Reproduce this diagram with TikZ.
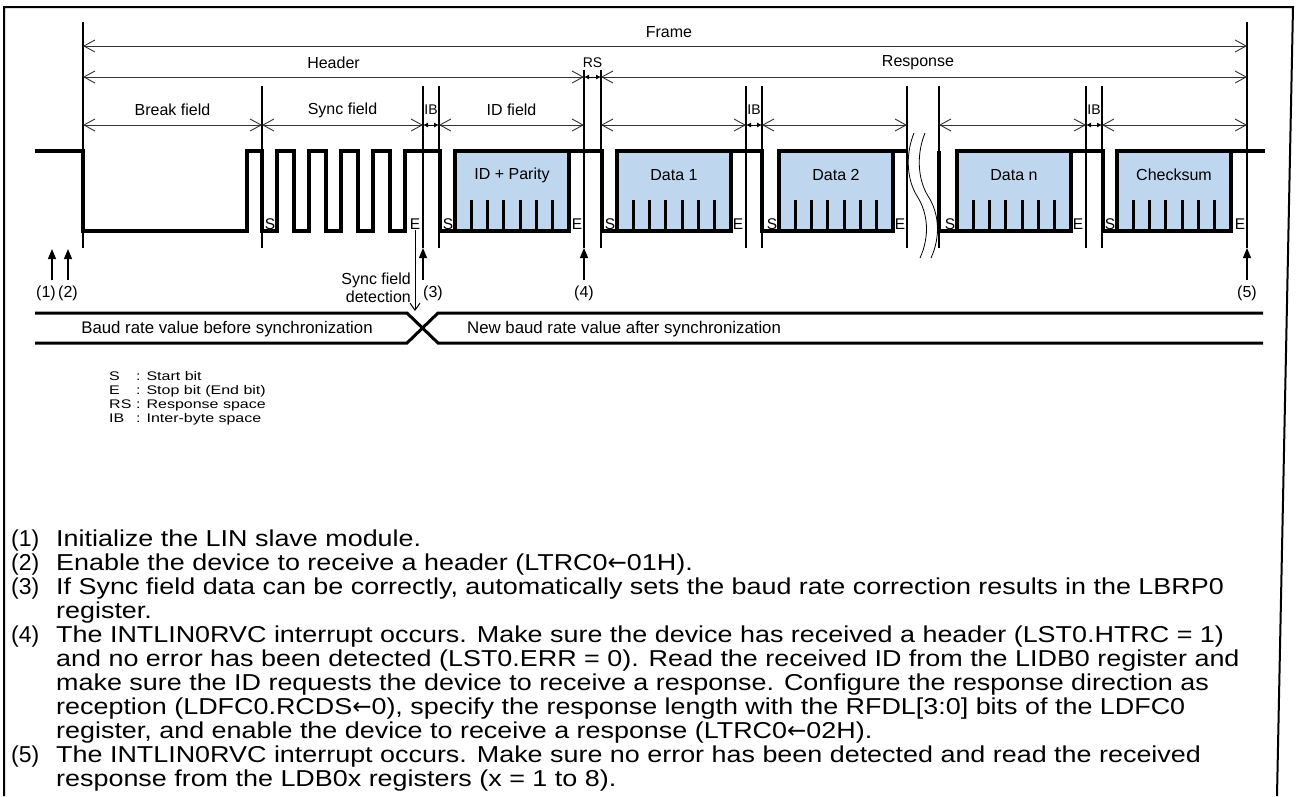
\documentclass[tikz,border=0pt]{standalone}
\usepackage{fontspec}
\setmainfont{Liberation Sans}
\newfontfamily\widefont[FakeStretch=1.17]{Liberation Sans}
\newfontfamily\keyfont[FakeStretch=1.28]{Liberation Sans}
\newfontfamily\arrowfont{DejaVu Sans}
\newcommand{\larr}{{\arrowfont ←}}
\newcommand{\keyitem}[2]{\makebox[27pt][l]{#1}: #2}
\usetikzlibrary{arrows.meta,positioning,calc}
\definecolor{bytefill}{RGB}{190,215,238}

\begin{document}
\begin{tikzpicture}[x=1pt, y=-1pt, inner sep=1pt, font=\fontsize{16}{18.5}\selectfont]
	\tikzstyle{wave}=[line width=3.5pt]
	\tikzstyle{markline}=[line width=2pt]
	\tikzstyle{dimline}=[line width=0.9pt, draw=black!80, {Straight Barb[length=11pt,width=12pt]}-{Straight Barb[length=11pt,width=12pt]}]
	\tikzstyle{gapline}=[line width=0.9pt, {Latex[length=5pt,width=5pt]}-{Latex[length=5pt,width=5pt]}]
	\tikzstyle{event}=[line width=1.2pt, shorten <=4pt, -{Triangle[length=10pt,width=8pt]}]
	\tikzstyle{detarrow}=[line width=1pt, -{Straight Barb[length=7pt,width=10pt]}]
	\tikzstyle{smalltxt}=[font=\fontsize{14}{14}\selectfont, inner sep=0pt]
	\tikzstyle{bitlabel}=[font=\fontsize{15.5}{15.5}\selectfont, inner sep=0pt]
	\tikzstyle{bodytxt}=[font=\widefont\fontsize{23}{24}\selectfont, inner sep=0pt, anchor=base west]
	\useasboundingbox (0,0) rectangle (1296,796);
	% outer frame
	\draw[line width=2pt] (4,796) -- (4,7) -- (1293,7) -- (1277,796);
	% marker lines
	\foreach \nm/\x/\t in {fs/83/22, bf/262/86, sf/423/86, ia/439/86, rs1/584/70, rs2/601/70, d1/746/86, d2/762/86, cut1/907/86, cut2/939/86, dn/1086/86, dn2/1102/86, fe/1247/22}{
		\coordinate (\nm) at (\x,0);
		\coordinate (\nm-b) at (\x,248);
		\draw[markline] (\x,\t) -- (\nm-b);
	}
	% dimension arrows
	\draw[dimline] ($(fs)+(0,46)$) -- ($(fe)+(0,46)$);
	\draw[dimline] ($(fs)+(0,77)$) -- ($(rs1)+(0,77)$);
	\draw[dimline] ($(rs2)+(0,77)$) -- ($(fe)+(0,77)$);
	\draw[gapline] ($(rs1)+(0,77)$) -- ($(rs2)+(0,77)$);
	\foreach \a/\b in {fs/bf, bf/sf, ia/rs1, rs2/d1, d2/cut1, cut2/dn, dn2/fe}
		\draw[dimline] ($(\a)+(0,125)$) -- ($(\b)+(0,125)$);
	\foreach \a/\b in {sf/ia, d1/d2, dn/dn2}
		\draw[gapline] ($(\a)+(0,125)$) -- ($(\b)+(0,125)$);
	\node (tframe) at ($(fs)!0.5!(fe)+(4,32)$) {Frame};
	\node (theader) at ($(fs)!0.5!(rs1)+(0,63)$) {Header};
	\node (tresp) at ($(rs2)!0.5!(fe)+(-6,63)$) {Response};
	\node[smalltxt] (trs) at ($(rs1)!0.5!(rs2)+(0,63)$) {RS};
	\node (tbreak) at ($(fs)!0.5!(bf)+(0,110)$) {Break field};
	\node (tsync) at ($(bf)!0.5!(sf)+(0,110)$) {Sync field};
	\node (tid) at ($(ia)!0.5!(rs1)+(0,110)$) {ID field};
	\foreach \a/\b/\nm in {sf/ia/ib1, d1/d2/ib2, dn/dn2/ib3}
		\node[smalltxt] (\nm) at ($(\a)!0.5!(\b)+(0,110)$) {IB};
	% break and sync field
	\draw[wave] (35,151) -- (83,151) -- (83,231) -- (247,231) -- (247,151)
		foreach \k in {0,...,4}{ -- ({262+32*\k},151) -- ({262+32*\k},231) -- ({277+32*\k},231) -- ({277+32*\k},151) }
		-- (440,151) -- (440,231) -- (455,231);
	% bytes
	\foreach \x/\lab/\nm in {455/ID + Parity/bid, 617/Data 1/bd1, 779/Data 2/bd2, 957/Data n/bdn, 1117/Checksum/bcs}{
		\draw[wave, fill=bytefill] (\x,151) rectangle ++(114,80);
		\foreach \k in {1,...,6}
			\draw[line width=3pt] ({\x+16.3*\k},200) -- ({\x+16.3*\k},231);
		\node (\nm) at ({\x+57},175) {\lab};
	}
	\draw[wave] (569,151) -- (602,151) -- (602,231) -- (617,231);
	\draw[wave] (731,151) -- (762,151) -- (762,231) -- (779,231);
	\draw[wave] (893,151) -- (907,151);
	\draw[wave] (939,151) -- (939,231) -- (957,231);
	\draw[wave] (1071,151) -- (1103,151) -- (1103,231) -- (1117,231);
	\draw[wave] (1231,151) -- (1265,151);
	% cut mark
	\draw[line width=0.8pt] (914,133) .. controls (905,155) and (907,180) .. (917,196) .. controls (928,213) and (930,236) .. (920,258);
	\draw[line width=0.8pt] (925,133) .. controls (916,155) and (918,180) .. (928,196) .. controls (939,213) and (941,236) .. (931,258);
	% start and stop bits
	\foreach \x/\nm in {270/s0, 448/s1, 610/s2, 772/s3, 950/s4, 1110/s5}
		\node[bitlabel] (\nm) at (\x,224) {S};
	\foreach \x/\nm in {415/e0, 577/e1, 738/e2, 900/e3, 1078/e4, 1240/e5}
		\node[bitlabel] (\nm) at (\x,224) {E};
	% events
	\coordinate (p1) at (52,249);
	\coordinate (p2) at (68,249);
	\node (n1) at (46,293) {(1)};
	\node (n2) at (68,293) {(2)};
	\node (n3) at (433,293) {(3)};
	\node (n4) at (584,293) {(4)};
	\node (n5) at (1247,293) {(5)};
	\draw[event] (p1 |- n1.north) -- (p1);
	\draw[event] (p2 |- n2.north) -- (p2);
	\draw[event] (sf-b |- n3.north) -- (sf-b);
	\draw[event] (n4.north) -- (rs1-b);
	\draw[event] (n5.north) -- (fe-b);
	\node[align=right, anchor=east] (tdet) at (412,288) {Sync field\\detection};
	\coordinate (xtop) at (415,311);
	\draw[detarrow] (e0.south) -- (xtop);
	% baud rate
	\draw[line width=3pt] (35,313) -- (407,313) -- (438,343) -- (1263,343);
	\draw[line width=3pt] (35,343) -- (407,343) -- (438,313) -- (1263,313);
	\node[font=\fontsize{16.8}{18}\selectfont] (bold) at (227,329) {Baud rate value before synchronization};
	\node[font=\fontsize{16.8}{18}\selectfont, anchor=west] (bnew) at (466,329) {New baud rate value after synchronization};
	% legend
	\node[font=\keyfont\fontsize{12.5}{14}\selectfont, align=left, inner sep=0pt, anchor=north west] (key) at (109,371)
		{\keyitem{S}{Start bit}\\ \keyitem{E}{Stop bit (End bit)}\\ \keyitem{RS}{Response space}\\ \keyitem{IB}{Inter-byte space}};
	% notes
	\foreach \i/\num in {0/(1), 1/(2), 2/(3), 4/(4), 9/(5)}
		\node[bodytxt, font=\fontsize{23}{24}\selectfont] at (11,{546+24*\i}) {\num};
	\foreach \i/\txt in {
		0/{Initialize the LIN slave module.},
		1/{Enable the device to receive a header (LTRC0\larr01H).},
		2/{If Sync field data can be correctly, automatically sets the baud rate correction results in the LBRP0},
		3/{register.},
		4/{The INTLIN0RVC interrupt occurs. Make sure the device has received a header (LST0.HTRC = 1)},
		5/{and no error has been detected (LST0.ERR = 0). Read the received ID from the LIDB0 register and},
		6/{make sure the ID requests the device to receive a response. Configure the response direction as},
		7/{reception (LDFC0.RCDS\larr0), specify the response length with the RFDL[3:0] bits of the LDFC0},
		8/{register, and enable the device to receive a response (LTRC0\larr02H).},
		9/{The INTLIN0RVC interrupt occurs. Make sure no error has been detected and read the received},
		10/{response from the LDB0x registers (x = 1 to 8).}}
		\node[bodytxt] at (56,{546+24*\i}) {\txt};
\end{tikzpicture}
\end{document}
